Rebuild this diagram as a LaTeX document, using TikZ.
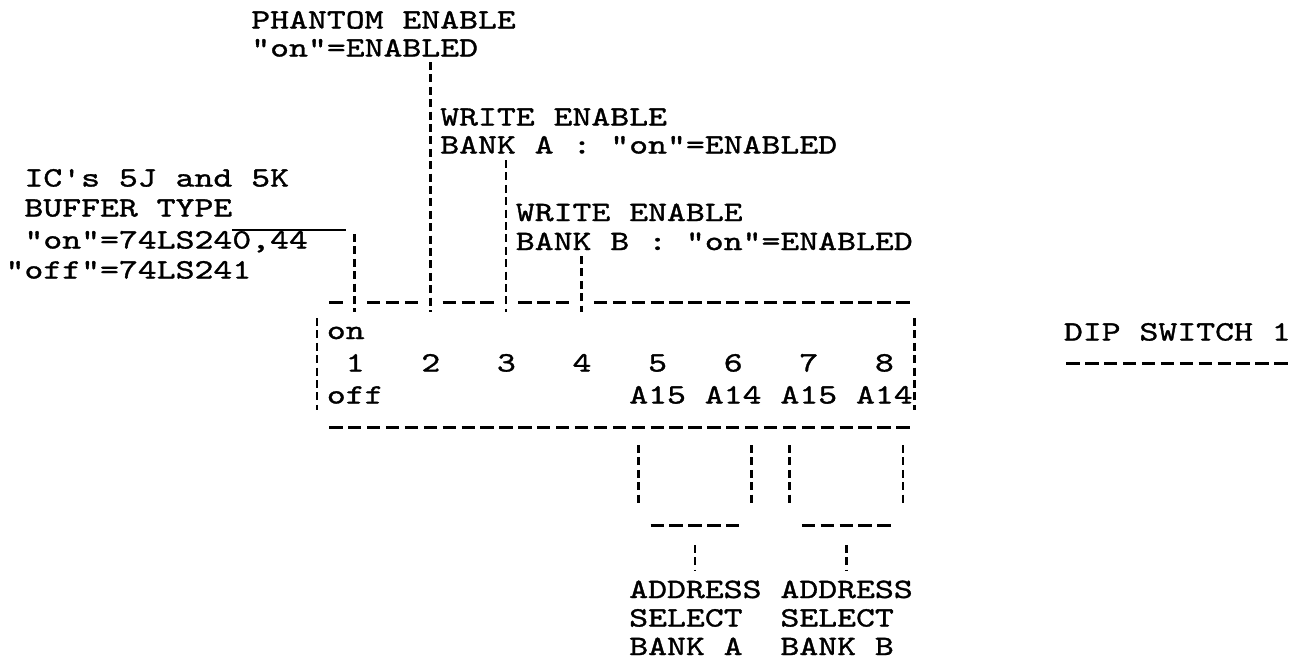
\documentclass[tikz,border=0pt]{standalone}
\usepackage{fontspec}
\newfontfamily\twfont{lmmono10-regular.otf}[FakeStretch=1.2857,FakeBold=1.2]
\usetikzlibrary{positioning}

\begin{document}
\begin{tikzpicture}[x=9.45pt,y=-0.5pt,
tw/.style={font={\twfont\fontsize{14pt}{14pt}\selectfont},inner sep=0pt,anchor=base west},
dashrow/.style={line width=1.5pt,dash pattern=on 6.65pt off 2.8pt},
brokenbar/.style={line width=1.4pt,dash pattern=on 4pt off 2.2pt}]
\useasboundingbox[fill=white] (-0.7725,0) rectangle (67.799,661);
% labels above the switch
\node[tw] (phan1) at (12.5,28.5) {PHANTOM ENABLE};
\node[tw] (phan2) at (12.5,56.5) {"on"=ENABLED};
\node[tw] (wea1) at (22.5,125.5) {WRITE ENABLE};
\node[tw] (wea2) at (22.5,153.5) {BANK A : "on"=ENABLED};
\node[tw] (web1) at (26.5,221) {WRITE ENABLE};
\node[tw] (web2) at (26.5,250) {BANK B : "on"=ENABLED};
\node[tw] (ics1) at (0.5,186.5) {IC's 5J and 5K};
\node[tw] (ics2) at (0.5,216.5) {BUFFER TYPE};
\node[tw] (ics3) at (0.5,248.5) {"on"=74LS240,44};
\node[tw] (ics4) at (-0.5,278.5) {"off"=74LS241};
\draw[line width=1pt] (11.5,230) -- (17.55,230);
% switch body
\node[tw] (on) at (16.5,339) {on};
\foreach \n in {1,...,8}
  \node[tw] (sw\n) at ({13.5+4*\n},371.5) {\n};
\node[tw] (off) at (16.5,403.5) {off};
\node[tw] (a15a) at (32.5,403.5) {A15};
\node[tw] (a14a) at (36.5,403.5) {A14};
\node[tw] (a15b) at (40.5,403.5) {A15};
\node[tw] (a14b) at (44.5,403.5) {A14};
\node[tw] (dip) at (55.5,340.5) {DIP SWITCH 1};
\coordinate (boxtop) at (0,312);
\draw[dashrow] (16.648,302) -- (17.352,302);
\draw[dashrow] (18.648,302) -- (21.352,302);
\draw[dashrow] (22.648,302) -- (25.352,302);
\draw[dashrow] (26.648,302) -- (29.352,302);
\draw[dashrow] (30.648,302) -- (47.352,302);
\draw[dashrow] (16.648,427) -- (47.352,427);
\draw[dashrow] (55.648,363) -- (67.352,363);
\coordinate (bl) at (16,318);
\coordinate (br) at (47.6,318);
\draw[brokenbar] (bl) -- ++(0,92);
\draw[brokenbar] (br) -- ++(0,92);
% leads to the labels
\coordinate (ph) at (22,62);
\coordinate (wa) at (26,160);
\coordinate (wb) at (30,256);
\coordinate (ic) at (18,234);
\draw[brokenbar] (ph) -- (ph |- boxtop);
\draw[brokenbar] (wa) -- (wa |- boxtop);
\draw[brokenbar] (wb) -- (wb |- boxtop);
\draw[brokenbar] (ic) -- (ic |- boxtop);
% address select
\foreach \c in {33,39,41,47}
  \draw[brokenbar] (\c,445) -- (\c,505);
\draw[dashrow] (33.648,525) -- (38.352,525);
\draw[dashrow] (41.648,525) -- (46.352,525);
\coordinate (sa) at (36,545);
\coordinate (sb) at (44,545);
\draw[brokenbar] (sa) -- ++(0,26);
\draw[brokenbar] (sb) -- ++(0,26);
\node[tw] (adra1) at (32.5,598) {ADDRESS};
\node[tw] (adra2) at (32.5,626.5) {SELECT};
\node[tw] (adra3) at (32.5,655) {BANK A};
\node[tw] (adrb1) at (40.5,598) {ADDRESS};
\node[tw] (adrb2) at (40.5,626.5) {SELECT};
\node[tw] (adrb3) at (40.5,655) {BANK B};
\end{tikzpicture}
\end{document}
